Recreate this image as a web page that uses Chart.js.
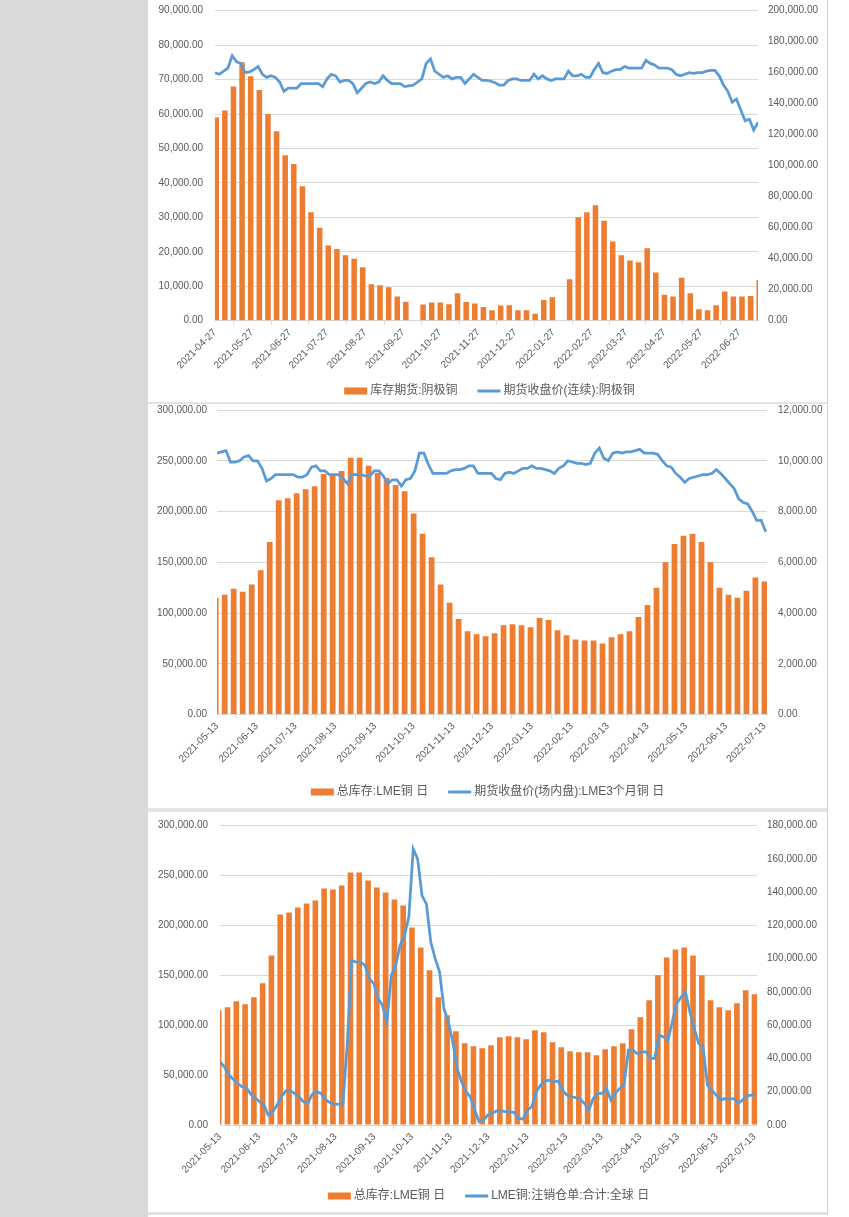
<!DOCTYPE html>
<html lang="zh-CN">
<head>
<meta charset="utf-8">
<title>铜库存与价格</title>
<script src="https://cdn.jsdelivr.net/npm/chart.js@4.4.1/dist/chart.umd.min.js"></script>
<style>
  html, body { margin: 0; padding: 0; }
  body { width: 849px; height: 1217px; position: relative; background: #fff; overflow: hidden; }
  .side { position: absolute; left: 0; top: 0; width: 148px; height: 1217px; background: #d9d9d9; }
  .rule { position: absolute; background: #e3e3e3; }
  canvas { position: absolute; }
  #c1 { left: 151px; top: 0; }
  #c2 { left: 148px; top: 403px; }
  #c3 { left: 151px; top: 812px; }
</style>
</head>
<body>
<div class="side"></div>
<div class="rule" style="left:148px;top:402px;width:679px;height:2px"></div>
<div class="rule" style="left:148px;top:808px;width:679px;height:4px"></div>
<div class="rule" style="left:148px;top:1212px;width:679px;height:3px"></div>
<div class="rule" style="left:827px;top:0;width:1px;height:1215px;background:#d0d0d0"></div>
<canvas id="c1" width="677" height="403"></canvas>
<canvas id="c2" width="679" height="405"></canvas>
<canvas id="c3" width="675" height="400"></canvas>
<script>
/* Three stacked copper charts: SHFE cathode stock vs price,
   LME stock vs LME 3M price, LME stock vs cancelled warrants. */

// ---- chart 1: SHFE ----
const c1Start = "2021-04-27";
const c1End = "2022-07-12";
const c1Ticks = ["2021-04-27", "2021-05-27", "2021-06-27", "2021-07-27", "2021-08-27",
  "2021-09-27", "2021-10-27", "2021-11-27", "2021-12-27", "2022-01-27", "2022-02-27",
  "2022-03-27", "2022-04-27", "2022-05-27", "2022-06-27"];
const c1FirstWeek = "2021-04-28"; // one bar per trading week (weekly reading)
const c1Stock = [
  59000, 61000, 68000, 75000, 71000, 67000, 60000, 55000, 48000, 45500,
  39000, 31500, 27000, 21800, 20800, 19000, 18000, 15500, 10600, 10300,
  9700, 7000, 5500, null, 4700, 5300, 5300, 4800, 8000, 5400,
  5000, 4000, 3000, 4400, 4500, 3000, 3000, 2000, 6000, 6800,
  null, 12000, 30000, 31500, 33500, 29000, 23000, 19000, 17500, 17000,
  21000, 14000, 7500, 7000, 12500, 8000, 3300, 3000, 4500, 8500,
  7000, 7000, 7200, 11800];
// closing price, read twice a week
const c1Price = [
  160000, 159000, 161000, 163000, 171000, 167000, 166000, 160000, 160500, 162000,
  164000, 159000, 157000, 158000, 157000, 154000, 148000, 150000, 150000, 150000,
  153000, 153000, 153000, 153000, 153000, 151000, 156000, 159000, 158000, 154000,
  155000, 155000, 153000, 147000, 150000, 153000, 154000, 153000, 154000, 158000,
  155000, 153000, 153000, 153000, 151000, 151500, 152000, 154000, 156000, 166000,
  169000, 161000, 159000, 157000, 158000, 156000, 157000, 157000, 153000, 156000,
  159000, 157000, 155000, 155000, 154500, 153500, 152000, 152000, 155000, 156000,
  156000, 155000, 155000, 155000, 159000, 156000, 158000, 156000, 155000, 156000,
  156000, 156000, 161000, 158000, 158000, 159000, 157000, 157000, 162000, 166000,
  160000, 159500, 161000, 162000, 162000, 164000, 163000, 163000, 163000, 163000,
  168000, 166000, 165000, 163000, 163000, 163000, 162000, 159000, 158000, 159000,
  160000, 159500, 160000, 160000, 161000, 161500, 161500, 158000, 152000, 148000,
  141000, 143000, 136000, 129000, 130000, 123000, 128000];

// ---- charts 2 and 3: LME ----
const lmeStart = "2021-05-13";
const lmeEnd = "2022-07-15";
const lmeTicks = ["2021-05-13", "2021-06-13", "2021-07-13", "2021-08-13", "2021-09-13",
  "2021-10-13", "2021-11-13", "2021-12-13", "2022-01-13", "2022-02-13", "2022-03-13",
  "2022-04-13", "2022-05-13", "2022-06-13", "2022-07-13"];
const lmeFirstWeek = "2021-05-12";
const lmeStock = [
  115000, 118000, 124000, 121000, 128000, 142000, 170000, 211000, 213000, 218000,
  222000, 225000, 237000, 236000, 240000, 253000, 253000, 245000, 238000, 233000,
  226000, 220000, 198000, 178000, 155000, 128000, 110000, 94000, 82000, 79000,
  77000, 80000, 88000, 89000, 88000, 86000, 95000, 93000, 83000, 78000,
  74000, 73000, 73000, 70000, 76000, 79000, 82000, 96000, 108000, 125000,
  150000, 168000, 176000, 178000, 170000, 150000, 125000, 118000, 115000, 122000,
  135000, 131000];
const lmePrice = [
  10300, 10350, 10400, 9950, 9950, 10000, 10150, 10200, 10000, 10000,
  9700, 9200, 9300, 9450, 9450, 9450, 9450, 9450, 9350, 9350,
  9450, 9750, 9800, 9600, 9600, 9450, 9450, 9450, 9300, 9100,
  9450, 9450, 9450, 9400, 9400, 9600, 9600, 9400, 9100, 9250,
  9250, 9000, 9250, 9300, 9600, 10300, 10300, 9850, 9500, 9500,
  9500, 9500, 9600, 9650, 9650, 9700, 9800, 9800, 9500, 9500,
  9500, 9500, 9300, 9250, 9500, 9550, 9500, 9600, 9700, 9700,
  9800, 9700, 9700, 9650, 9600, 9500, 9700, 9800, 10000, 9950,
  9900, 9900, 9850, 9900, 10300, 10500, 10100, 10000, 10300, 10350,
  10300, 10350, 10350, 10400, 10450, 10300, 10300, 10300, 10250, 10000,
  9800, 9750, 9500, 9350, 9150, 9300, 9350, 9400, 9450, 9450,
  9500, 9650, 9500, 9300, 9100, 8900, 8500, 8350, 8300, 8000,
  7650, 7650, 7200];
const lmeCancelled = [
  38000, 35000, 30000, 27500, 25000, 23000, 22500, 18500, 16500, 14000,
  12000, 6000, 8000, 12000, 17000, 20500, 20500, 19000, 17000, 14000,
  13000, 18500, 20000, 19000, 15500, 13500, 12500, 12500, 12500, 50000,
  99000, 98000, 98000, 96000, 88000, 85000, 76000, 72000, 62000, 90000,
  96000, 108000, 114000, 125000, 166000, 160000, 138000, 133000, 110000, 100000,
  92000, 70000, 62000, 50000, 34000, 26000, 20000, 17000, 9000, 2000,
  3000, 6000, 7000, 8500, 8500, 8000, 8000, 7500, 4000, 3500,
  9000, 11000, 20000, 24000, 26500, 27000, 26000, 26500, 21000, 18000,
  17000, 16500, 15500, 13000, 9000, 16000, 19000, 19000, 22000, 15000,
  19000, 22000, 24000, 45000, 45000, 43000, 44000, 44000, 40000, 40000,
  54000, 53000, 51000, 62000, 73000, 77000, 80000, 68000, 58000, 49000,
  47000, 24000, 21000, 18000, 15000, 16000, 15500, 16000, 13000, 15000,
  17500, 18000, 18000];

const FONT = "'Liberation Sans', 'Noto Sans CJK SC', sans-serif";
const TEXT = "#595959";
const GRID = "#d9d9d9";
const ORANGE = "#ED7D31";
const BLUE = "#5B9BD5";

const dayOf = (start, date) => Math.round((Date.parse(date) - Date.parse(start)) / 864e5);
const money = (v) => v.toLocaleString("en-US", { minimumFractionDigits: 2, maximumFractionDigits: 2 });

// legend drawn under the axis, centred on the canvas, Excel style
const bottomLegend = {
  id: "bottomLegend",
  afterDraw(chart, args, opts) {
    const ctx = chart.ctx;
    const items = chart.data.datasets.map((d) => ({ text: d.label, type: d.type, color: d.type === "line" ? d.borderColor : d.backgroundColor }));
    ctx.save();
    ctx.font = "12px " + FONT;
    const iconW = 23, gap = 3, between = 20;
    let total = 0;
    items.forEach((it, i) => { total += iconW + gap + ctx.measureText(it.text).width + (i ? between : 0); });
    let x = (chart.width - total) / 2;
    const y = chart.height - opts.bottom;
    ctx.textBaseline = "middle";
    items.forEach((it) => {
      ctx.fillStyle = it.color;
      if (it.type === "line") ctx.fillRect(x, y - 1.5, iconW, 3);
      else ctx.fillRect(x, y - 3.5, iconW, 7);
      x += iconW + gap;
      ctx.fillStyle = TEXT;
      ctx.fillText(it.text, x, y);
      x += ctx.measureText(it.text).width + between;
    });
    ctx.restore();
  },
};

// the label gap is an invisible tick mark, so it does not push the plot top down
function yAxis(side, max, step, width, gap) {
  return {
    position: side,
    min: 0,
    max: max,
    afterFit: (s) => { s.width = width; },
    ticks: { stepSize: step, color: TEXT, font: { family: FONT, size: 10 }, padding: 0, callback: (v) => money(v) },
    grid: {
      drawOnChartArea: side === "left",
      color: GRID,
      lineWidth: 1,
      drawTicks: true,
      tickLength: gap,
      tickColor: "rgba(0,0,0,0)",
    },
    border: { display: false },
  };
}

function buildChart(id, o) {
  const tickDays = o.ticks.map((t) => dayOf(o.start, t));
  const firstBar = dayOf(o.start, o.firstWeek);
  return new Chart(document.getElementById(id), {
    type: "bar",
    data: {
      datasets: [
        {
          type: "bar",
          label: o.barLabel,
          data: o.bars.map((v, k) => ({ x: firstBar + 7 * k, y: v })),
          backgroundColor: ORANGE,
          barPercentage: 0.64,
          categoryPercentage: 1,
          yAxisID: "y",
          order: 2,
        },
        {
          type: "line",
          label: o.lineLabel,
          data: o.line.map((v, i) => ({ x: i * 3.5, y: v })),
          borderColor: BLUE,
          borderWidth: 2.75,
          pointRadius: 0,
          tension: 0,
          yAxisID: "y1",
          order: 1,
        },
      ],
    },
    options: {
      responsive: false,
      animation: false,
      devicePixelRatio: 1,
      layout: { padding: { top: o.box.top } },
      plugins: { legend: { display: false }, tooltip: { enabled: false }, bottomLegend: { bottom: o.box.legend } },
      scales: {
        x: {
          type: "linear",
          min: 0,
          max: dayOf(o.start, o.end),
          offset: false,
          afterBuildTicks: (s) => { s.ticks = tickDays.map((v) => ({ value: v })); },
          afterFit: (s) => { s.height = o.box.xh; },
          ticks: {
            autoSkip: false, minRotation: 45, maxRotation: 45, padding: 2,
            color: TEXT, font: { family: FONT, size: 10 },
            callback: (v, i) => o.ticks[i],
          },
          grid: { drawOnChartArea: false, color: GRID, tickLength: 4 },
          border: { display: true, color: GRID },
        },
        y: yAxis("left", o.leftMax, o.leftStep, o.box.lw, o.box.lp),
        y1: yAxis("right", o.rightMax, o.rightStep, o.box.rw, o.box.rp),
      },
    },
    plugins: [bottomLegend],
  });
}

buildChart("c1", {
  start: c1Start, end: c1End, ticks: c1Ticks, firstWeek: c1FirstWeek,
  bars: c1Stock, line: c1Price,
  barLabel: "库存期货:阴极铜", lineLabel: "期货收盘价(连续):阴极铜",
  leftMax: 90000, leftStep: 10000, rightMax: 200000, rightStep: 20000,
  box: { top: 10.7, xh: 82.3, lw: 64, rw: 70, lp: 12, rp: 10, legend: 12 },
});

buildChart("c2", {
  start: lmeStart, end: lmeEnd, ticks: lmeTicks, firstWeek: lmeFirstWeek,
  bars: lmeStock, line: lmePrice,
  barLabel: "总库存:LME铜 日", lineLabel: "期货收盘价(场内盘):LME3个月铜 日",
  leftMax: 300000, leftStep: 50000, rightMax: 12000, rightStep: 2000,
  box: { top: 7, xh: 93.5, lw: 69, rw: 60, lp: 10, rp: 11, legend: 16 },
});

buildChart("c3", {
  start: lmeStart, end: lmeEnd, ticks: lmeTicks, firstWeek: lmeFirstWeek,
  bars: lmeStock, line: lmeCancelled,
  barLabel: "总库存:LME铜 日", lineLabel: "LME铜:注销仓单:合计:全球 日",
  leftMax: 300000, leftStep: 50000, rightMax: 180000, rightStep: 20000,
  box: { top: 13.7, xh: 87, lw: 69, rw: 69, lp: 12, rp: 10, legend: 16 },
});
</script>
</body>
</html>
